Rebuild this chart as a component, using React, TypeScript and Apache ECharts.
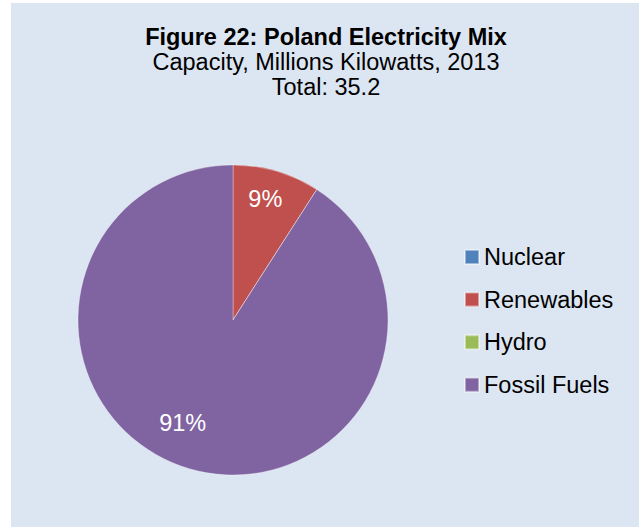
import React, { useEffect, useRef } from "react";
import * as echarts from "echarts";

const categories = ["Nuclear", "Renewables", "Hydro", "Fossil Fuels"];
const values = [0, 3.2, 0, 32.0];
const colors = ["#4F81BD", "#C0504D", "#9BBB59", "#8064A2"];
const titleLines = [
  "Figure 22: Poland Electricity Mix",
  "Capacity, Millions Kilowatts, 2013",
  "Total: 35.2",
];

const FONT = "'Liberation Sans', Arial, sans-serif";

export default function App() {
  const ref = useRef<HTMLDivElement>(null);
  useEffect(() => {
    if (!ref.current) return;
    const chart = echarts.init(ref.current, undefined, { renderer: "svg" });
    const data = categories.map((name, i) => ({
      name,
      value: values[i],
      itemStyle: { color: colors[i] },
    }));
    const labelData = categories.map((name, i) => ({
      name,
      value: values[i],
      label: name === "Fossil Fuels" ? { offset: [-15, -17] } : { offset: [-3, -1] },
    }));
    chart.setOption({
      animation: false,
      backgroundColor: "#ffffff",
      graphic: [
        {
          type: "rect",
          shape: { x: 11, y: 3, width: 628, height: 524 },
          style: { fill: "#DCE6F2" },
          z: -10,
        },
        ...titleLines.map((t, i) => ({
          type: "text",
          x: 326,
          y: 37 + i * 25,
          style: {
            text: t,
            font: `${i === 0 ? "bold " : ""}23.5px ${FONT}`,
            fill: "#000000",
            textAlign: "center",
            textVerticalAlign: "middle",
          },
        })),
      ],
      legend: {
        orient: "vertical",
        left: 464,
        top: 245,
        padding: 0,
        itemWidth: 14,
        itemHeight: 14,
        itemGap: 18.6,
        icon: "rect",
        selectedMode: false,
        textStyle: { fontSize: 23.5, fontFamily: FONT, color: "#000", lineHeight: 22 },
        data: categories.map((name, i) => ({ name, itemStyle: { color: colors[i] } })),
      },
      series: [
        {
          type: "pie",
          center: [233, 320],
          radius: [0, 155],
          startAngle: 90,
          clockwise: true,
          silent: true,
          label: { show: false },
          labelLine: { show: false },
          itemStyle: { borderColor: "rgba(255,255,255,0.45)", borderWidth: 0.7 },
          data,
        },
        {
          type: "pie",
          center: [233, 320],
          radius: [90, 155],
          startAngle: 90,
          clockwise: true,
          silent: true,
          itemStyle: { color: "transparent", borderWidth: 0 },
          label: {
            show: true,
            position: "inside",
            color: "#ffffff",
            fontSize: 23.5,
            fontFamily: FONT,
            formatter: (p: any) => (p.value > 0 ? Math.round(p.percent) + "%" : ""),
          },
          labelLine: { show: false },
          data: labelData,
        },
      ],
    });
    return () => chart.dispose();
  }, []);
  return (
    <div
      ref={ref}
      style={{ position: "fixed", left: 0, top: 0, width: 639, height: 527 }}
    />
  );
}
